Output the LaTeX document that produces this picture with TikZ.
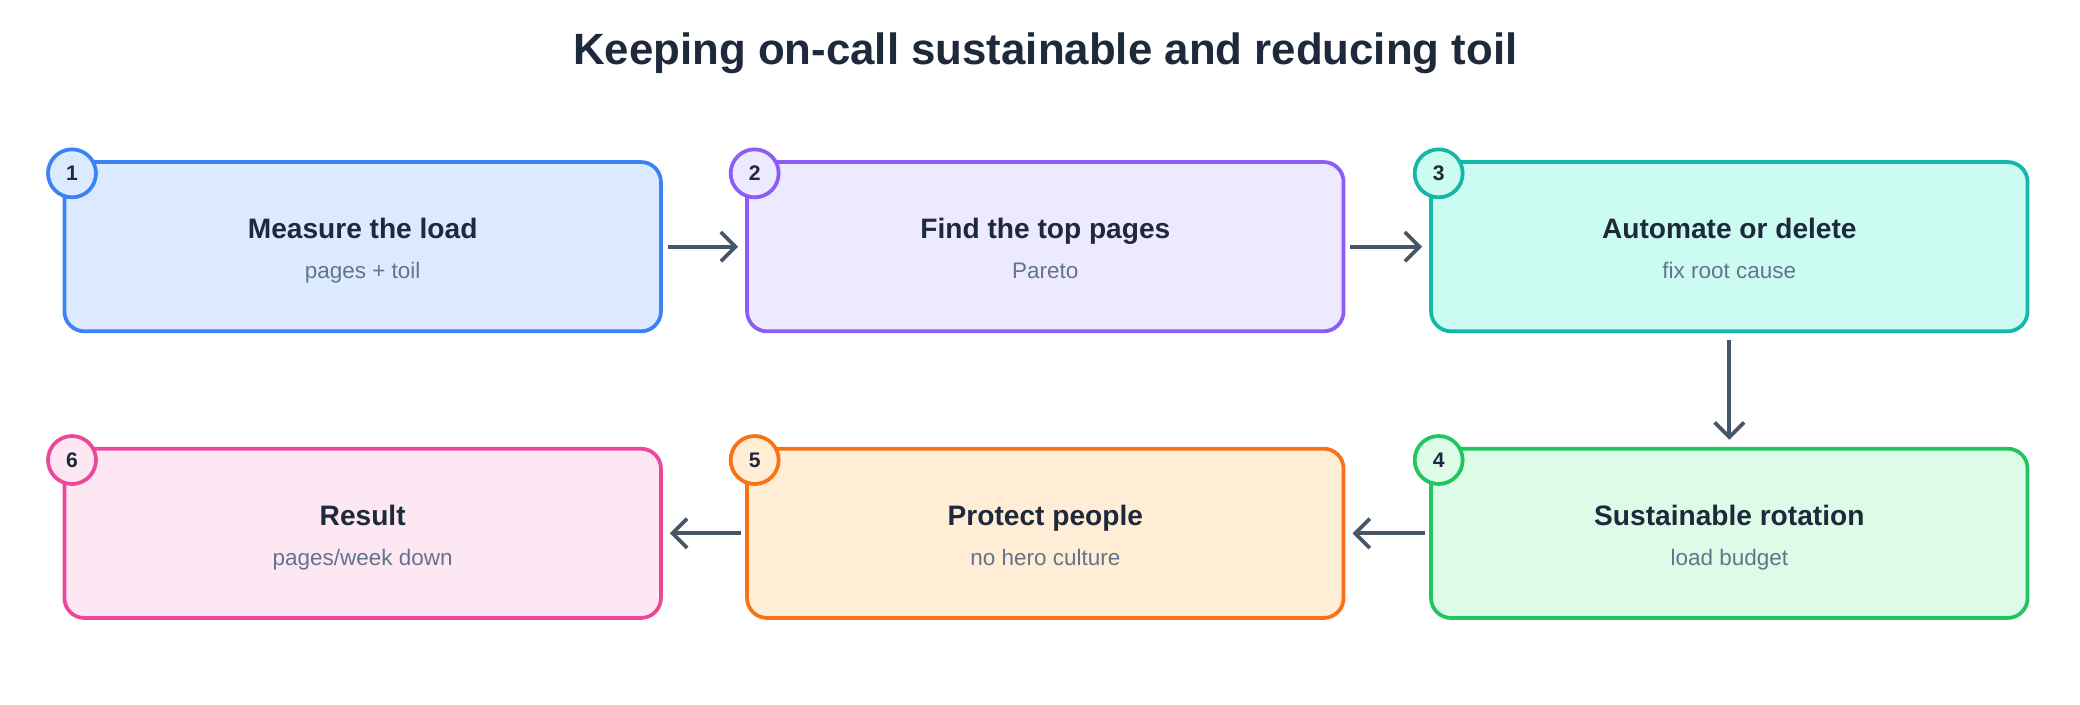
\documentclass[tikz,border=0pt]{standalone}
\usepackage{fontspec}
\setmainfont{Liberation Sans}
\usetikzlibrary{arrows.meta}
\definecolor{bB}{HTML}{3B82F6}\definecolor{fB}{HTML}{DBEAFE}
\definecolor{bP}{HTML}{8B5CF6}\definecolor{fP}{HTML}{EDE9FE}
\definecolor{bT}{HTML}{14B8A6}\definecolor{fT}{HTML}{CCFBF1}
\definecolor{bG}{HTML}{22C55E}\definecolor{fG}{HTML}{DCFCE7}
\definecolor{bO}{HTML}{F97316}\definecolor{fO}{HTML}{FFEDD5}
\definecolor{bK}{HTML}{EC4899}\definecolor{fK}{HTML}{FCE7F3}
\definecolor{arr}{HTML}{475569}\definecolor{ttl}{HTML}{1E293B}\definecolor{sub}{HTML}{64748B}
\tikzset{
 box/.style={draw=#1, line width=1.6pt, rounded corners=0.3cm, minimum width=8.95cm, minimum height=2.54cm, inner sep=0pt},
 badge/.style={circle, draw=#1, line width=1.6pt, minimum size=0.72cm, inner sep=0pt, font=\bfseries\small, text=ttl},
 head/.style={font=\bfseries\fontsize{12}{14}\selectfont, text=ttl, anchor=base},
 subt/.style={font=\fontsize{9.6}{12}\selectfont, text=sub, anchor=base},
 flow/.style={draw=arr, line width=1.6pt, -{Straight Barb[length=2.2mm,width=4.4mm]}}
}
\begin{document}
\begin{tikzpicture}[x=0.02cm,y=-0.02cm]
\useasboundingbox (0,0) rectangle (1560,528);
\node[font=\bfseries\fontsize{18.7}{22}\selectfont, text=ttl] (title) at (784,40) {Keeping on-call sustainable and reducing toil};
\foreach \n/\x/\y/\c/\h/\s in {1/272/185/B/Measure the load/pages + toil, 2/784/185/P/Find the top pages/Pareto, 3/1297/185/T/Automate or delete/fix root cause, 4/1297/400/G/Sustainable rotation/load budget, 5/784/400/O/Protect people/no hero culture, 6/272/400/K/Result/{pages/week down}}{
 \node[box=b\c, fill=f\c] (b\n) at (\x,\y) {};
 \node[head] (h\n) at (\x,\y-6) {\h};
 \node[subt] (s\n) at (\x,\y+24) {\s};
 \node[badge=b\c, fill=f\c] (c\n) at (\x-218,\y-55) {\n};
}
\draw[flow] ([xshift=2pt]b1.east) -- ([xshift=-3pt]b2.west);
\draw[flow] ([xshift=2pt]b2.east) -- ([xshift=-3pt]b3.west);
\draw[flow] ([yshift=-3pt]b3.south) -- ([yshift=3pt]b4.north);
\draw[flow] ([xshift=-2pt]b4.west) -- ([xshift=3pt]b5.east);
\draw[flow] ([xshift=-2pt]b5.west) -- ([xshift=3pt]b6.east);
\end{tikzpicture}
\end{document}
